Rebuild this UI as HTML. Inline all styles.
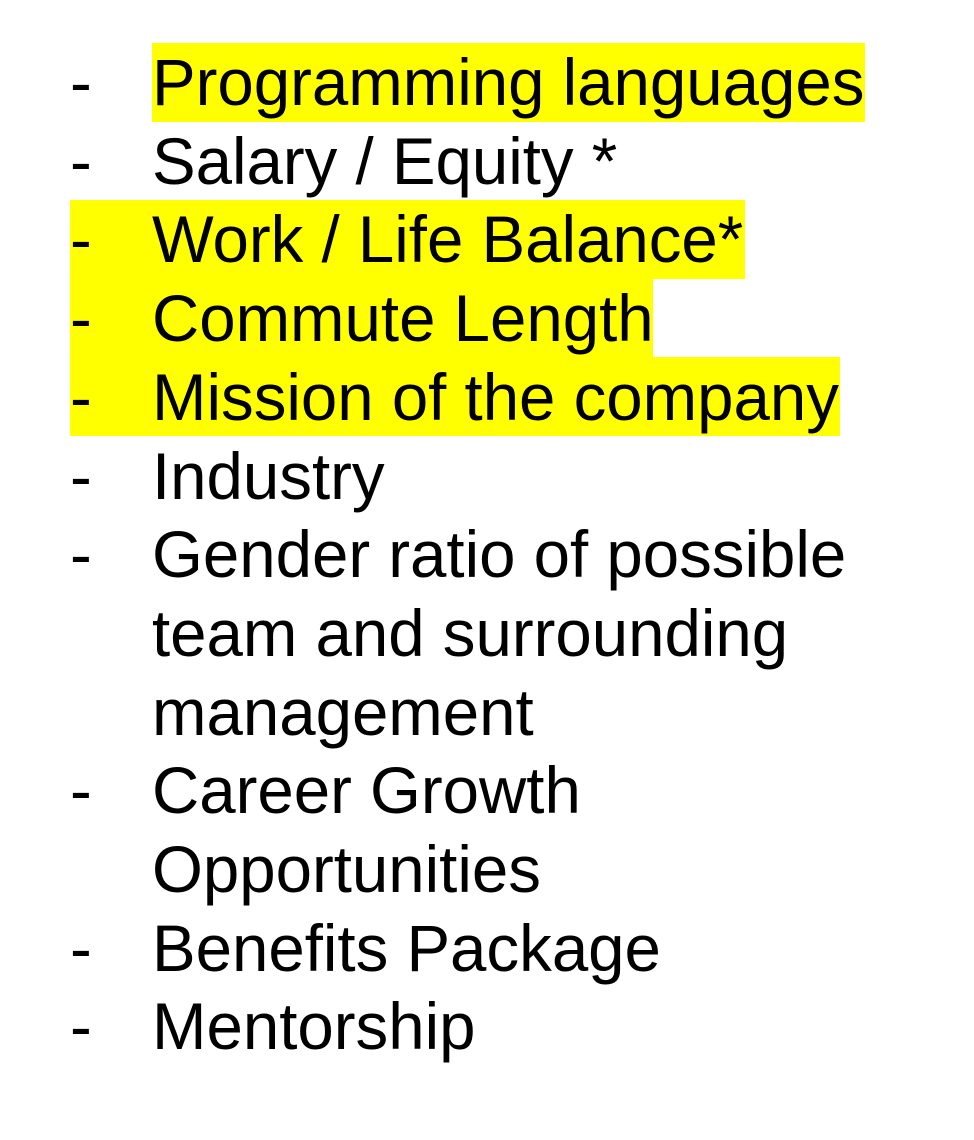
<!DOCTYPE html>
<html>
<head>
<meta charset="utf-8">
<style>
  html, body { margin:0; padding:0; background:#fff; }
  body { width:974px; height:1140px; position:relative; overflow:hidden;
         font-family:"Liberation Sans", Arial, sans-serif; color:#000; }
  .hl { position:absolute; background:#ffff00; }
  .row { position:absolute; left:0; height:78.7px; line-height:78.7px; font-size:65.4px; white-space:nowrap; padding-top:1px; }
  .dash { position:absolute; left:70px; }
  .txt { position:absolute; left:152px; }
</style>
</head>
<body>
  <div class="hl" style="left:152px;top:43px;width:713px;height:79px"></div>
  <div class="hl" style="left:70px;top:200px;width:675px;height:79px"></div>
  <div class="hl" style="left:70px;top:279px;width:583px;height:79px"></div>
  <div class="hl" style="left:70px;top:357px;width:770px;height:79px"></div>

  <div class="row" style="top:43px"><span class="dash">-</span><span class="txt">Programming languages</span></div>
  <div class="row" style="top:121.7px"><span class="dash">-</span><span class="txt">Salary / Equity *</span></div>
  <div class="row" style="top:200.4px"><span class="dash">-</span><span class="txt">Work / Life Balance*</span></div>
  <div class="row" style="top:279.1px"><span class="dash">-</span><span class="txt">Commute Length</span></div>
  <div class="row" style="top:357.8px"><span class="dash">-</span><span class="txt">Mission of the company</span></div>
  <div class="row" style="top:436.5px"><span class="dash">-</span><span class="txt">Industry</span></div>
  <div class="row" style="top:515.2px"><span class="dash">-</span><span class="txt">Gender ratio of possible</span></div>
  <div class="row" style="top:593.9px"><span class="txt">team and surrounding</span></div>
  <div class="row" style="top:672.6px"><span class="txt">management</span></div>
  <div class="row" style="top:751.3px"><span class="dash">-</span><span class="txt">Career Growth</span></div>
  <div class="row" style="top:830px"><span class="txt">Opportunities</span></div>
  <div class="row" style="top:908.7px"><span class="dash">-</span><span class="txt">Benefits Package</span></div>
  <div class="row" style="top:987.4px"><span class="dash">-</span><span class="txt">Mentorship</span></div>
</body>
</html>
